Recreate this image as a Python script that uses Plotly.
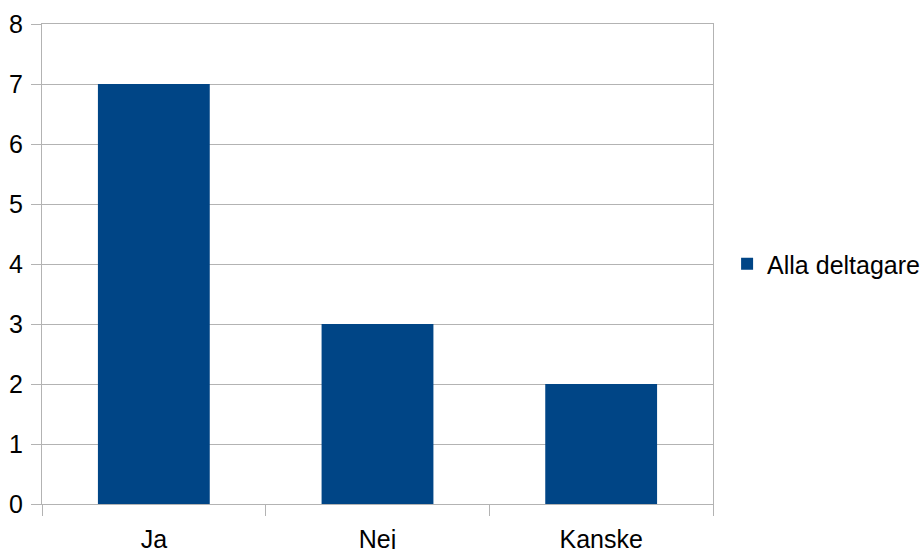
import plotly.graph_objects as go

# Survey answers
categories = ["Ja", "Nej", "Kanske"]
counts = [7, 3, 2]
series_name = "Alla deltagare"

BAR_COLOR = "#004586"
GRID_COLOR = "#b3b3b3"
FONT = "Liberation Sans, Arial, sans-serif"
FONT_SIZE = 25

fig = go.Figure(
    go.Bar(
        x=categories,
        y=counts,
        name=series_name,
        marker=dict(color=BAR_COLOR, line=dict(width=0)),
        showlegend=True,
    )
)

fig.update_layout(
    width=924,
    height=549,
    margin=dict(l=42, r=211, t=24, b=45, autoexpand=False),
    paper_bgcolor="white",
    plot_bgcolor="white",
    bargap=0.5,
    font=dict(family=FONT, size=FONT_SIZE, color="#000000"),
    showlegend=True,
    legend=dict(
        x=1.021,
        y=0.5,
        xanchor="left",
        yanchor="middle",
        font=dict(family=FONT, size=FONT_SIZE, color="#000000"),
        itemwidth=30,
    ),
)

fig.update_xaxes(
    type="category",
    range=[-0.5, 2.5],
    automargin=False,
    tickson="boundaries",
    ticks="outside",
    ticklen=11,
    tickcolor=GRID_COLOR,
    tickwidth=1,
    ticklabelstandoff=13,
    showgrid=False,
    showline=True,
    linecolor=GRID_COLOR,
    linewidth=1,
    mirror=True,
    tickfont=dict(family=FONT, size=FONT_SIZE, color="#000000"),
)

fig.update_yaxes(
    range=[0, 8],
    dtick=1,
    automargin=False,
    ticks="outside",
    ticklen=10,
    tickcolor=GRID_COLOR,
    tickwidth=1,
    ticklabelstandoff=3,
    showgrid=True,
    gridcolor=GRID_COLOR,
    gridwidth=1,
    zeroline=False,
    showline=True,
    linecolor=GRID_COLOR,
    linewidth=1,
    mirror=True,
    tickfont=dict(family=FONT, size=FONT_SIZE, color="#000000"),
)

fig.write_html("out.html")
